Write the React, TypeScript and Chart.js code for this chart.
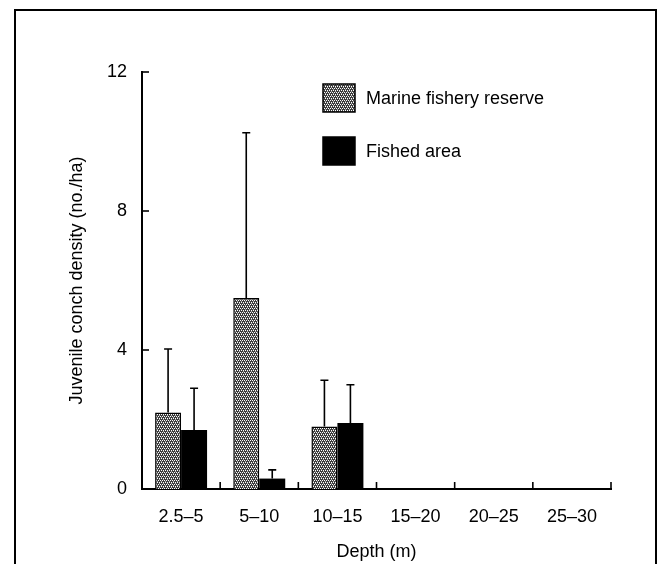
import React, { useEffect, useRef } from "react";
import { Chart, registerables } from "chart.js";

Chart.register(...registerables);

const categories = ["2.5–5", "5–10", "10–15", "15–20", "20–25", "25–30"];
const reserveValues = [2.2, 5.5, 1.8, 0, 0, 0];
const reserveErrors = [1.83, 4.75, 1.33, 0, 0, 0];
const fishedValues = [1.7, 0.3, 1.9, 0, 0, 0];
const fishedErrors = [1.2, 0.25, 1.1, 0, 0, 0];
const seriesLabels = ["Marine fishery reserve", "Fished area"];
const yTicks = [0, 4, 8, 12];

const FONT = "'Liberation Sans', Arial, Helvetica, sans-serif";

function makePattern(): CanvasPattern | string {
  const c = document.createElement("canvas");
  c.width = 4;
  c.height = 4;
  const g = c.getContext("2d");
  if (!g) return "#777";
  g.fillStyle = "#3c3c3c";
  g.fillRect(0, 0, 4, 4);
  g.fillStyle = "#ffffff";
  [[0, 0], [2, 0], [1, 2], [3, 2]].forEach(([x, y]) => g.fillRect(x, y, 1, 1));
  g.fillStyle = "#a0a0a0";
  [[1, 1], [3, 3]].forEach(([x, y]) => g.fillRect(x, y, 1, 1));
  const p = g.createPattern(c, "repeat");
  return p || "#777";
}

const errorBarPlugin = {
  id: "errorBars",
  afterDatasetsDraw(chart: any) {
    const ctx = chart.ctx;
    const yScale = chart.scales.y;
    const errs = [reserveErrors, fishedErrors];
    ctx.save();
    ctx.strokeStyle = "#000";
    ctx.lineWidth = 1.6;
    chart.data.datasets.forEach((ds: any, di: number) => {
      const meta = chart.getDatasetMeta(di);
      meta.data.forEach((el: any, i: number) => {
        const e = errs[di][i];
        if (!e) return;
        const v = ds.data[i];
        const yTop = yScale.getPixelForValue(v + e);
        const yBase = yScale.getPixelForValue(v);
        ctx.beginPath();
        ctx.moveTo(el.x, yBase);
        ctx.lineTo(el.x, yTop);
        ctx.moveTo(el.x - 4, yTop);
        ctx.lineTo(el.x + 4, yTop);
        ctx.stroke();
      });
    });
    ctx.restore();
  },
};

const decorPlugin = {
  id: "decor",
  afterDraw(chart: any) {
    const ctx = chart.ctx;
    const x = chart.scales.x;
    const y = chart.scales.y;
    const area = chart.chartArea;
    ctx.save();
    // frame
    ctx.strokeStyle = "#000";
    ctx.lineWidth = 2;
    ctx.beginPath();
    ctx.moveTo(15, 564);
    ctx.lineTo(15, 10);
    ctx.lineTo(656, 10);
    ctx.lineTo(656, 564);
    ctx.stroke();
    // y ticks (inward)
    ctx.lineWidth = 1.6;
    yTicks.forEach((t) => {
      const py = y.getPixelForValue(t);
      ctx.beginPath();
      ctx.moveTo(area.left, py);
      ctx.lineTo(area.left + 7, py);
      ctx.stroke();
    });
    // x ticks at category boundaries (inward)
    const step = x.getPixelForValue(1) - x.getPixelForValue(0);
    for (let i = 0; i < categories.length; i++) {
      const px = x.getPixelForValue(i) + step / 2;
      ctx.beginPath();
      ctx.moveTo(px, area.bottom);
      ctx.lineTo(px, area.bottom - 7);
      ctx.stroke();
    }
    // legend
    const ds = chart.data.datasets;
    const boxes = [
      { y: 84, text: seriesLabels[0] },
      { y: 137, text: seriesLabels[1] },
    ];
    ctx.font = `18px ${FONT}`;
    ctx.textBaseline = "middle";
    ctx.textAlign = "left";
    boxes.forEach((b, i) => {
      ctx.fillStyle = ds[i].backgroundColor;
      ctx.fillRect(323, b.y, 32, 28);
      ctx.lineWidth = 1.5;
      ctx.strokeStyle = "#000";
      ctx.strokeRect(323, b.y, 32, 28);
      ctx.fillStyle = "#000";
      ctx.fillText(b.text, 366, b.y + 15);
    });
    ctx.restore();
  },
};

export default function App() {
  const ref = useRef<HTMLCanvasElement>(null);
  useEffect(() => {
    if (!ref.current) return;
    const pattern = makePattern();
    const chart = new Chart(ref.current, {
      type: "bar",
      data: {
        labels: categories,
        datasets: [
          {
            label: seriesLabels[0],
            data: reserveValues,
            backgroundColor: pattern as any,
            borderColor: "#000",
            borderWidth: 1.5,
            borderSkipped: "bottom",
            categoryPercentage: 0.665,
            barPercentage: 1,
          },
          {
            label: seriesLabels[1],
            data: fishedValues,
            backgroundColor: "#000",
            borderColor: "#000",
            borderWidth: 0,
            categoryPercentage: 0.665,
            barPercentage: 1,
          },
        ],
      },
      options: {
        responsive: false,
        animation: false,
        events: [],
        layout: { padding: { left: 0, right: 51, top: 72, bottom: 0 } },
        plugins: {
          legend: { display: false },
          tooltip: { enabled: false },
          title: { display: false },
        },
        scales: {
          x: {
            grid: { display: false, drawTicks: false },
            border: { display: true, color: "#000", width: 2 },
            ticks: {
              color: "#000",
              font: { family: FONT, size: 18 },
              padding: 17,
              maxRotation: 0,
              autoSkip: false,
            },
            title: {
              display: true,
              text: "Depth (m)",
              color: "#000",
              font: { family: FONT, size: 18 },
              padding: { top: 0, bottom: 1 },
            },
            afterFit: (s: any) => {
              s.height = 75;
            },
          },
          y: {
            min: 0,
            max: 12,
            grid: { display: false, drawTicks: false },
            border: { display: true, color: "#000", width: 2 },
            afterBuildTicks: (s: any) => {
              s.ticks = yTicks.map((v) => ({ value: v }));
            },
            ticks: {
              color: "#000",
              font: { family: FONT, size: 18 },
              padding: 15,
            },
            title: {
              display: true,
              text: "Juvenile conch density (no./ha)",
              color: "#000",
              font: { family: FONT, size: 18 },
              padding: { top: 66, bottom: 0 },
            },
            afterFit: (s: any) => {
              s.width = 142;
            },
          },
        },
      },
      plugins: [errorBarPlugin, decorPlugin],
    });
    return () => chart.destroy();
  }, []);
  return (
    <div style={{ position: "absolute", left: 0, top: 0, width: 662, height: 564, background: "#fff" }}>
      <canvas ref={ref} width={662} height={564} />
    </div>
  );
}
